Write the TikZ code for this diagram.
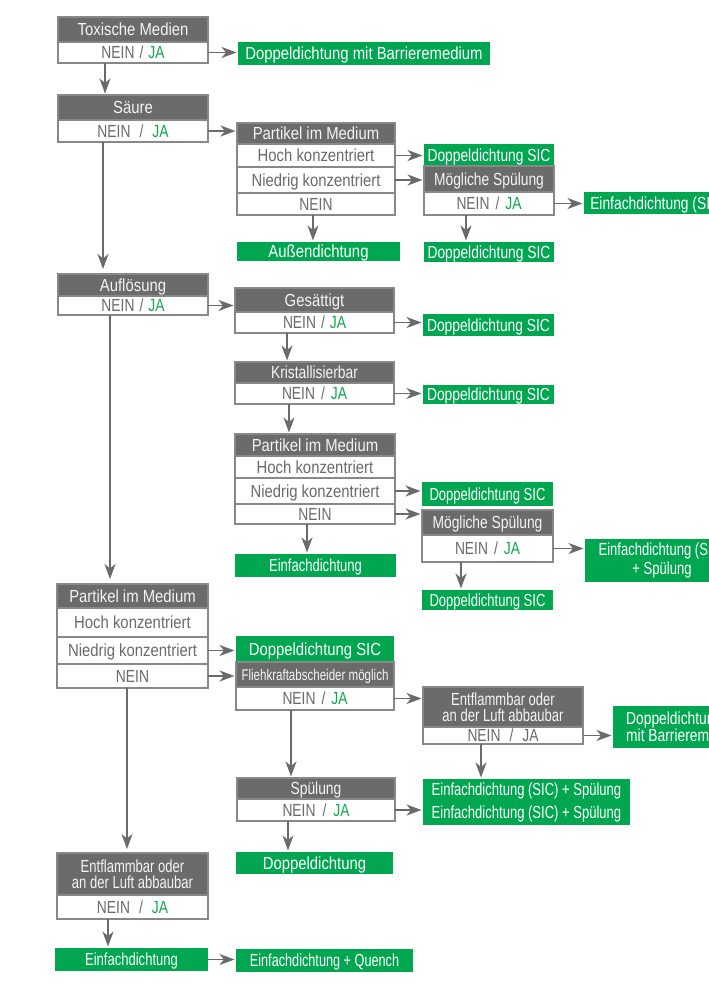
\documentclass[tikz,border=0pt]{standalone}
\usepackage{fontspec}
\setmainfont{Liberation Sans}
\newfontfamily\fA[FakeStretch=0.85]{Liberation Sans}
\newfontfamily\fB[FakeStretch=0.79]{Liberation Sans}
\newfontfamily\fC[FakeStretch=0.745]{Liberation Sans}
\newfontfamily\fD[FakeStretch=0.725]{Liberation Sans}
\usetikzlibrary{arrows.meta}
\definecolor{hdg}{HTML}{6B6B6B}
\definecolor{bdg}{HTML}{888888}
\definecolor{grn}{HTML}{00A650}
\definecolor{rwt}{HTML}{6A6A6A}
\definecolor{jag}{HTML}{10A84E}
\definecolor{arg}{HTML}{6A6A6A}
\definecolor{hdt}{HTML}{F4F4F4}
\newcommand\fs{\fontsize{17.5}{18}\selectfont}
\newcommand\nj[1]{{\fB\fs NEIN\hspace{#1}/\hspace{#1}\textcolor{jag}{JA}}}
\newcommand\bx[7]{\node[#6,minimum width={(#4)-(#2)},minimum height={(#5)-(#3)}] (#1) at ({((#2)+(#4))/2},{((#3)+(#5))/2}) {#7};}
\begin{document}
\begin{tikzpicture}[x=1pt,y=-1pt,
  base/.style={inner sep=0pt,outer sep=0pt,anchor=center},
  one/.style={text height=12.5pt,text depth=0pt},
  hd/.style={base,one,fill=hdg,draw=bdg,line width=1.3pt,text=hdt,font=\fA\fs},
  hd2/.style={base,fill=hdg,draw=bdg,line width=1.3pt,text=hdt,align=center,font=\fC\fontsize{17.5}{16.5}\selectfont},
  rw/.style={base,one,fill=white,draw=bdg,line width=1.3pt,text=rwt,font=\fA\fs},
  gn/.style={base,one,fill=grn,text=white,font=\fA\fs},
  gn2/.style={base,fill=grn,text=white,align=center,font=\fC\fontsize{17.5}{19}\selectfont},
  gn2l/.style={base,fill=grn,text=white,align=left,font=\fB\fontsize{17.5}{15.5}\selectfont},
  lsk/.style={font=\fC\fontsize{17.5}{23}\selectfont},
  fb/.style={font=\fB\fs},
  fc/.style={font=\fC\fs},
  fd/.style={font=\fD\fs},
  small/.style={font=\fC\fontsize{15.5}{16}\selectfont,text height=11.1pt},
  ar/.style={draw=arg,line width=1.7pt,-{Stealth[length=15pt,width=11pt,inset=4.5pt]},shorten >=1.5pt}]
\useasboundingbox (0,0) rectangle (709,996);
\fill[white] (0,0) rectangle (709,996);
\clip (0,0) rectangle (709,996);
% Toxische Medien
\bx{tAh}{58}{17}{208}{42}{hd}{Toxische Medien}
\bx{tAr}{58}{42}{208}{63}{rw}{\nj{5pt}}
\bx{gA}{238}{42}{490}{65}{gn}{Doppeldichtung mit Barrieremedium}
% Saeure
\bx{sBh}{58}{95}{208}{120}{hd}{Säure}
\bx{sBr}{58}{120}{208}{142}{rw}{\nj{9pt}}
\bx{p1h}{237}{123}{395}{144}{hd}{Partikel im Medium}
\bx{p1a}{237}{144}{395}{167}{rw}{Hoch konzentriert}
\bx{p1b}{237}{167}{395}{193}{rw}{Niedrig konzentriert}
\bx{p1c}{237}{193}{395}{215}{rw}{\fB\fs NEIN}
\bx{g1}{237}{242}{400}{261}{gn}{Außendichtung}
\bx{g2}{424}{144}{554}{166}{gn,fb}{Doppeldichtung SIC}
\bx{m1h}{424}{166}{554}{192}{hd,fb}{Mögliche Spülung}
\bx{m1r}{424}{192}{554}{215}{rw}{\nj{6pt}}
\bx{g3}{584}{192}{731}{214}{gn,fb}{Einfachdichtung (SIC)}
\bx{g4}{424}{242}{554}{262}{gn,fb}{Doppeldichtung SIC}
% Aufloesung
\bx{aCh}{58}{274}{208}{296}{hd}{Auflösung}
\bx{aCr}{58}{296}{208}{315}{rw}{\nj{5pt}}
\bx{gSh}{235}{288}{394}{312}{hd}{Gesättigt}
\bx{gSr}{235}{312}{394}{333}{rw}{\nj{5pt}}
\bx{g5}{423}{314}{554}{336}{gn,fb}{Doppeldichtung SIC}
\bx{krh}{235}{362}{394}{383}{hd,fb}{Kristallisierbar}
\bx{krr}{235}{383}{394}{404}{rw}{\nj{6pt}}
\bx{g6}{423}{385}{554}{404}{gn,fb}{Doppeldichtung SIC}
\bx{p2h}{235}{434}{395}{456}{hd}{Partikel im Medium}
\bx{p2a}{235}{456}{395}{478}{rw}{Hoch konzentriert}
\bx{p2b}{235}{478}{395}{504}{rw}{Niedrig konzentriert}
\bx{p2c}{235}{504}{395}{524}{rw}{\fB\fs NEIN}
\bx{g7}{422}{482}{553}{506}{gn,fc}{Doppeldichtung SIC}
\bx{m2h}{422}{510}{553}{535}{hd,fb}{Mögliche Spülung}
\bx{m2r}{422}{535}{553}{562}{rw}{\nj{6pt}}
\bx{g8}{585}{539}{739}{582}{gn2}{Einfachdichtung (SIC)\\+ Spülung}
\bx{g9}{422}{590}{553}{610}{gn,fc}{Doppeldichtung SIC}
\bx{g10}{235}{554}{396}{577}{gn,fc}{Einfachdichtung}
% Partikel im Medium (3)
\bx{p3h}{57}{584}{208}{608}{hd}{Partikel im Medium}
\bx{p3a}{57}{608}{208}{637}{rw}{Hoch konzentriert}
\bx{p3b}{57}{637}{208}{664}{rw}{Niedrig konzentriert}
\bx{p3c}{57}{664}{208}{688}{rw}{\fB\fs NEIN}
\bx{g11}{236}{636}{394}{662}{gn}{Doppeldichtung SIC}
\bx{fkh}{236}{662}{394}{687}{hd,small}{Fliehkraftabscheider möglich}
\bx{fkr}{236}{687}{394}{710}{rw}{\nj{6pt}}
\bx{e1h}{423}{687}{583}{727}{hd2}{Entflammbar oder\\an der Luft abbaubar}
\bx{e1r}{423}{727}{583}{744}{rw}{{\fB\fs NEIN\hspace{9pt}/\hspace{9pt}JA}}
\bx{g12}{613}{706}{760}{748}{gn2l}{Doppeldichtung\\mit Barrieremedium}
\bx{g13}{423}{779}{630}{825}{gn2,lsk}{Einfachdichtung (SIC) + Spülung\\Einfachdichtung (SIC) + Spülung}
\bx{sph}{237}{778}{395}{799}{hd,fb}{Spülung}
\bx{spr}{237}{799}{395}{821}{rw}{\nj{7pt}}
\bx{g14}{236}{852}{393}{874}{gn}{Doppeldichtung}
\bx{e2h}{57}{853}{208}{895}{hd2}{Entflammbar oder\\an der Luft abbaubar}
\bx{e2r}{57}{895}{208}{919}{rw}{\nj{9pt}}
\bx{g15}{55}{948}{208}{971}{gn,fc}{Einfachdichtung}
\bx{g16}{236}{949}{413}{972}{gn,fd}{Einfachdichtung + Quench}
% connectors
\draw[ar] (tAr.east) -- (tAr.east -| gA.west);
\draw[ar] (tAr.south -| 105,0) -- (sBh.north -| 105,0);
\draw[ar] (sBr.east) -- (sBr.east -| p1h.west);
\draw[ar,shorten >=5pt] (sBr.south -| 103,0) -- (aCh.north -| 103,0);
\draw[ar] (p1a.east) -- (p1a.east -| g2.west);
\draw[ar] (p1b.east) -- (p1b.east -| m1h.west);
\draw[ar] (p1c.south -| 313,0) -- (g1.north -| 313,0);
\draw[ar] (m1r.east) -- (m1r.east -| g3.west);
\draw[ar] (m1r.south -| 466,0) -- (g4.north -| 466,0);
\draw[ar] (aCr.east) -- (aCr.east -| gSh.west);
\draw[ar] (gSr.east) -- (gSr.east -| g5.west);
\draw[ar] (gSr.south -| 287,0) -- (krh.north -| 287,0);
\draw[ar] (krr.east) -- (krr.east -| g6.west);
\draw[ar] (krr.south -| 289,0) -- (p2h.north -| 289,0);
\draw[ar] (p2b.east) -- (p2b.east -| g7.west);
\draw[ar] (p2c.east) -- (p2c.east -| m2h.west);
\draw[ar] (m2r.east) -- (m2r.east -| g8.west);
\draw[ar] (m2r.south -| 461,0) -- (g9.north -| 461,0);
\draw[ar] (p2c.south -| 307,0) -- (g10.north -| 307,0);
\draw[ar,shorten >=5pt] (aCr.south -| 110,0) -- (p3h.north -| 110,0);
\draw[ar] (p3b.east) -- (p3b.east -| g11.west);
\draw[ar] (p3c.east) -- (p3c.east -| fkh.west);
\draw[ar] (fkr.east) -- (fkr.east -| e1h.west);
\draw[ar] (e1r.east) -- (e1r.east -| g12.west);
\draw[ar] (e1r.south -| 481,0) -- (g13.north -| 481,0);
\draw[ar] (fkr.south -| 291,0) -- (sph.north -| 291,0);
\draw[ar] (spr.east) -- (spr.east -| g13.west);
\draw[ar] (spr.south -| 288,0) -- (g14.north -| 288,0);
\draw[ar,shorten >=4pt] (p3c.south -| 127,0) -- (e2h.north -| 127,0);
\draw[ar] (e2r.south -| 108,0) -- (g15.north -| 108,0);
\draw[ar] (g15.east) -- (g15.east -| g16.west);
\end{tikzpicture}
\end{document}
